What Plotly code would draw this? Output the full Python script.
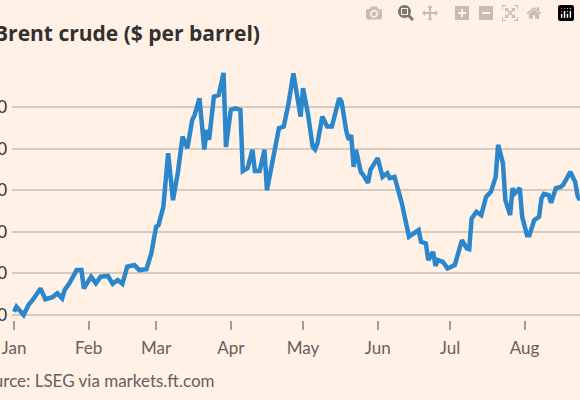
import plotly.graph_objects as go
import pandas as pd

days = [0,1,4,6,8,11,13,16,18,20,21,23,26,28,29,32,34,36,39,41,43,45,47,50,52,55,57,59,60,62,64,66,68,70,72,74,75,77,79,80,81,83,85,87,88,90,92,94,95,97,99,100,102,104,105,107,110,112,114,116,119,120,122,124,125,126,128,130,132,135,136,138,139,140,141,142,144,145,147,148,151,153,155,156,158,161,164,166,168,169,171,172,174,175,176,178,180,183,184,186,188,189,190,192,194,196,198,200,201,203,204,206,207,208,210,211,213,214,216,218,219,220,222,223,225,227,228,230,231,233,234,235]
values = [70.8,72.0,70.0,72.4,73.8,76.4,73.8,74.3,75.2,74.0,76.0,77.6,80.8,80.8,76.4,79.2,77.6,79.2,79.4,77.5,78.4,77.5,81.6,82.0,80.8,81.0,84.8,91.2,91.6,96.0,108.9,97.6,104.1,112.9,110.1,116.9,118.1,122.1,109.8,114.5,112.1,122.5,122.9,128.2,110.4,119.3,119.7,119.3,104.6,105.3,109.7,104.6,104.6,109.7,100.0,105.6,114.9,115.3,120.9,128.1,117.7,124.5,118.5,110.5,109.8,111.3,117.7,115.3,115.3,122.1,121.3,114.1,112.1,113.3,105.6,109.7,104.4,103.7,101.8,104.9,107.7,103.2,104.1,102.9,103.2,96.9,88.8,89.6,90.4,87.6,87.2,83.2,85.2,81.8,83.2,82.8,81.2,82.0,84.0,88.0,86.0,85.8,93.2,94.8,94.0,98.4,99.6,103.2,110.9,106.5,97.6,94.0,100.5,99.3,100.5,93.6,89.2,89.2,92.8,93.6,98.0,99.1,98.8,97.0,100.5,100.8,101.3,103.7,104.4,102.0,98.6,97.6]
month_starts = ["2022-01-01","2022-02-01","2022-03-01","2022-04-01","2022-05-01","2022-06-01","2022-07-01","2022-08-01"]
month_labels = ["Jan","Feb","Mar","Apr","May","Jun","Jul","Aug"]
y_ticks = [70, 80, 90, 100, 110, 120]

dates = pd.Timestamp("2022-01-01") + pd.to_timedelta(days, unit="D")

fig = go.Figure(go.Scatter(x=dates, y=values, mode="lines",
                           line=dict(color="#2b86cc", width=4.5), hoverinfo="skip"))

fig.add_shape(type="line", xref="paper", yref="y", x0=0, x1=1, y0=70, y1=70,
              line=dict(color="#a59d95", width=1.5), layer="below")

fig.update_layout(
    width=580, height=400, margin=dict(l=12, r=0, t=60, b=80),
    paper_bgcolor="#fff1e5", plot_bgcolor="#fff1e5", showlegend=False,
    font=dict(family="Lato", color="#33302e"),
    xaxis=dict(range=[pd.Timestamp("2022-01-01") - pd.Timedelta(hours=20), pd.Timestamp("2022-08-24")],
               tickvals=pd.to_datetime(month_starts), ticktext=month_labels,
               ticks="outside", ticklen=9, tickwidth=1.5, tickcolor="#a59d95",
               showgrid=False, zeroline=False, showline=False, ticklabelstandoff=4,
               automargin=False,
               tickfont=dict(size=17, color="#66605c")),
    yaxis=dict(range=[68.8, 131.3], tickvals=y_ticks, showgrid=True, gridcolor="#d5cbc1",
               gridwidth=1.5, zeroline=False, showline=False, ticks="",
               automargin=False, ticklabelstandoff=4,
               tickfont=dict(size=17, color="#33302e")),
    annotations=[
        dict(text="<b>Brent crude ($ per barrel)</b>", xref="paper", yref="paper",
             x=0.44, y=1.104, xanchor="right", yanchor="middle", showarrow=False,
             font=dict(family="Open Sans", size=21, color="#33302e")),
        dict(text="Source: LSEG via markets.ft.com", xref="paper", yref="paper",
             x=0.361, y=-0.231, xanchor="right", yanchor="middle", showarrow=False,
             font=dict(size=17, color="#66605c")),
    ],
)
fig.write_html("out.html", post_script="document.body.style.margin='0';document.body.style.overflow='hidden';")
